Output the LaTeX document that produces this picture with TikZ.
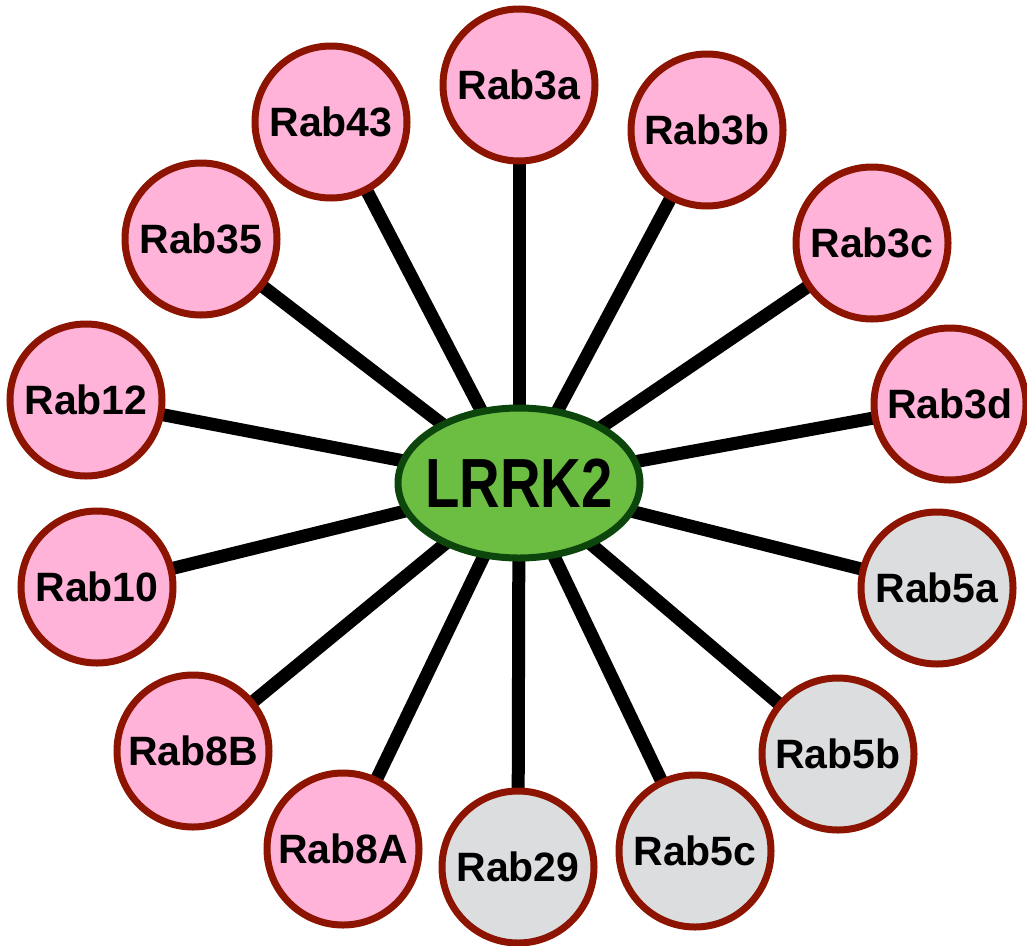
\documentclass[tikz,border=0pt]{standalone}
\usepackage{fontspec}
\setmainfont{Liberation Sans}
\usetikzlibrary{backgrounds,shapes.geometric}
\definecolor{rabpink}{RGB}{255,179,217}
\definecolor{rabgrey}{RGB}{220,221,223}
\definecolor{rabedge}{RGB}{140,20,0}
\definecolor{lgreen}{RGB}{108,190,66}
\definecolor{ledge}{RGB}{12,70,12}
\tikzset{
  rab/.style={circle, draw=rabedge, line width=7pt, minimum size=152pt, inner sep=0pt,
    font=\fontsize{41}{48}\selectfont\bfseries},
  pinkrab/.style={rab, fill=rabpink},
  greyrab/.style={rab, fill=rabgrey},
  hub/.style={ellipse, draw=ledge, line width=7pt, minimum width=242pt, minimum height=150pt,
    fill=lgreen, inner sep=0pt, font=\fontsize{58}{60}\selectfont\bfseries},
  link/.style={line width=13pt, black}
}
\begin{document}
\begin{tikzpicture}[x=1pt,y=-1pt]
\useasboundingbox (0,0) rectangle (1027,945);
\node[hub] (L) at (519,483) {\makebox[0pt][c]{\scalebox{0.97}[1.2]{LRRK2}}};
\node[pinkrab] (r3a) at (519,85) {Rab3a};
\node[pinkrab] (r3b) at (707,130) {Rab3b};
\node[pinkrab] (r3c) at (872,243) {Rab3c};
\node[pinkrab] (r3d) at (950,404) {Rab3d};
\node[greyrab] (r5a) at (937,588) {Rab5a};
\node[greyrab] (r5b) at (838,754) {Rab5b};
\node[greyrab] (r5c) at (695,851) {Rab5c};
\node[greyrab] (r29) at (518,867) {Rab29};
\node[pinkrab] (r8A) at (343,849) {Rab8A};
\node[pinkrab] (r8B) at (193,751) {Rab8B};
\node[pinkrab] (r10) at (97,587) {Rab10};
\node[pinkrab] (r12) at (86,400) {Rab12};
\node[pinkrab] (r35) at (201,239) {Rab35};
\node[pinkrab] (r43) at (331,122) {Rab43};
\begin{scope}[on background layer]
\foreach \n in {r3a,r3b,r3c,r3d,r5a,r5b,r5c,r29,r8A,r8B,r10,r12,r35,r43}
  \draw[link] (L.center) -- (\n.center);
\end{scope}
\end{tikzpicture}
\end{document}
